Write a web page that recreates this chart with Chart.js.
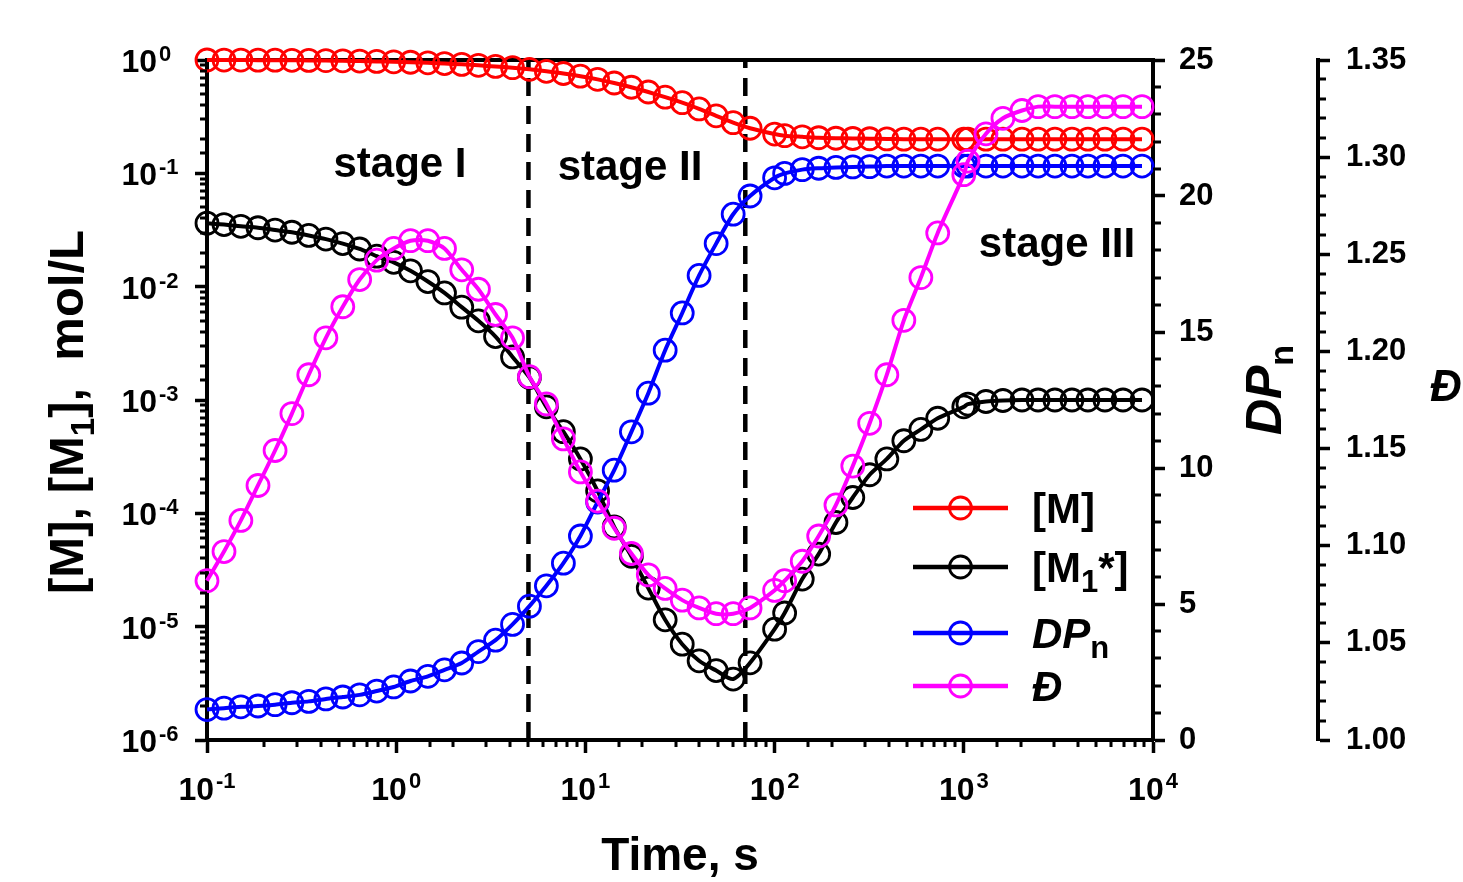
<!DOCTYPE html>
<html>
<head>
<meta charset="utf-8">
<script src="https://cdn.jsdelivr.net/npm/chart.js@4.4.1/dist/chart.umd.min.js"></script>
<style>
  html, body { margin: 0; padding: 0; background: #fff; }
  #wrap { width: 1463px; height: 882px; }
</style>
</head>
<body>
<div id="wrap"><canvas id="chart" width="1463" height="882"></canvas></div>
<script>
// ── Data ───────────────────────────────────────────────────────────────────

const TIMES = [
  0.1, 0.123, 0.151, 0.186, 0.229, 0.281, 0.345, 0.425, 0.522, 0.641,
  0.789, 0.97, 1.19, 1.47, 1.8, 2.22, 2.72, 3.35, 4.12, 5.06,
  6.22, 7.65, 9.41, 11.6, 14.2, 17.5, 21.5, 26.4, 32.5, 39.9,
  49.1, 60.4, 74.2, 100, 113, 140, 171, 211, 259, 318,
  392, 482, 593, 728, 1000, 1052, 1310, 1610, 2030, 2470,
  3030, 3730, 4530, 5570, 6940, 8750
];

// [M], mol/L
const M_CONC = [
  1.0, 0.999, 0.998, 0.997, 0.996, 0.994, 0.991, 0.988, 0.984, 0.979,
  0.972, 0.964, 0.955, 0.944, 0.93, 0.915, 0.897, 0.877, 0.855, 0.828,
  0.795, 0.76, 0.72, 0.675, 0.627, 0.575, 0.522, 0.47, 0.42, 0.37,
  0.322, 0.28, 0.25, 0.222, 0.215, 0.21, 0.206, 0.204, 0.203, 0.202,
  0.201, 0.2, 0.2, 0.2, 0.2, 0.2, 0.2, 0.2, 0.2, 0.2,
  0.2, 0.2, 0.2, 0.2, 0.2, 0.2
];

// [M1*], mol/L
const M1_CONC = [
  0.0363, 0.0353, 0.0341, 0.0331, 0.0316, 0.0302, 0.0283, 0.0263, 0.024, 0.0215,
  0.0186, 0.0164, 0.0138, 0.0111, 0.0088, 0.0066, 0.005, 0.00363, 0.0024, 0.00158,
  8.7e-4, 5.25e-4, 3.02e-4, 1.58e-4, 7.6e-5, 4.18e-5, 2.19e-5, 1.15e-5, 7.0e-6, 5.0e-6,
  4.1e-6, 3.45e-6, 4.8e-6, 9.5e-6, 1.32e-5, 2.63e-5, 4.37e-5, 8.3e-5, 1.38e-4, 2.19e-4,
  3.02e-4, 4.37e-4, 5.5e-4, 6.9e-4, 8.7e-4, 9.2e-4, 9.7e-4, 9.9e-4, 1.0e-3, 1.0e-3,
  1.0e-3, 1.0e-3, 1.0e-3, 1.0e-3, 1.0e-3, 1.0e-3
];

// DPn
const DPN = [
  1.12, 1.17, 1.22, 1.25, 1.3, 1.37, 1.42, 1.51, 1.58, 1.66,
  1.8, 1.95, 2.17, 2.34, 2.58, 2.83, 3.25, 3.67, 4.25, 4.92,
  5.67, 6.5, 7.5, 8.75, 9.92, 11.33, 12.75, 14.33, 15.7, 17.08,
  18.25, 19.33, 20.0, 20.67, 20.83, 20.97, 21.02, 21.05, 21.07, 21.08,
  21.1, 21.1, 21.1, 21.1, 21.1, 21.1, 21.1, 21.1, 21.1, 21.1,
  21.1, 21.1, 21.1, 21.1, 21.1, 21.1
];

// Đ (dispersity)
const DISP = [
  1.082, 1.097, 1.113, 1.131, 1.149, 1.168, 1.188, 1.207, 1.223, 1.237,
  1.247, 1.253, 1.257, 1.257, 1.253, 1.242, 1.232, 1.219, 1.207, 1.187,
  1.173, 1.155, 1.138, 1.123, 1.109, 1.096, 1.085, 1.078, 1.072, 1.068,
  1.065, 1.065, 1.068, 1.077, 1.082, 1.092, 1.105, 1.121, 1.141, 1.163,
  1.188, 1.216, 1.238, 1.261, 1.291, 1.298, 1.312, 1.320, 1.324, 1.326,
  1.326, 1.326, 1.326, 1.326, 1.326, 1.326
];

const STAGE_BOUNDS = [5, 70];
const STAGE_LABELS = ["stage I", "stage II", "stage III"];

// ── Styling ────────────────────────────────────────────────────────────────

const FONT = '"Liberation Sans", Arial, Helvetica, sans-serif';
const B = (size, italic) => `${italic ? "italic " : ""}bold ${size}px ${FONT}`;

// where the free text sits (pixels)
const STAGE_POS = [[400, 177], [630, 180], [1057, 257]];
const LEGEND = { x0: 913, x1: 1008, textX: 1032, rows: [508, 567, 633, 686] };

function isDecade(v) {
  const l = Math.log10(v);
  return Math.abs(l - Math.round(l)) < 1e-6;
}
const expOf = v => String(Math.round(Math.log10(v)));

// ── Datasets ───────────────────────────────────────────────────────────────

function series(label, rich, values, color, axis, order) {
  return {
    label, rich,
    data: TIMES.map((t, i) => ({ x: t, y: values[i] })),
    yAxisID: axis,
    borderColor: color,
    backgroundColor: "rgba(0,0,0,0)",
    borderWidth: 4,
    pointRadius: 11,
    pointHoverRadius: 11,
    pointBorderWidth: 2.8,
    pointBorderColor: color,
    pointBackgroundColor: "rgba(0,0,0,0)",
    tension: 0.25,
    clip: false,
    order,
  };
}

const datasets = [
  series("[M]", [["[M]", B(42)]], M_CONC, "#ff0000", "y", 3),
  series("[M1*]", [["[M", B(42)], ["1", B(31), 10], ["*]", B(42)]], M1_CONC, "#000000", "y", 2),
  series("DPn", [["DP", B(42, true)], ["n", B(31), 10]], DPN, "#0000ff", "yDP", 1),
  series("Đ", [["Đ", B(42, true)]], DISP, "#ff00ff", "yD", 0),
  ...STAGE_BOUNDS.map(t => ({
    label: "", rich: null,
    data: [{ x: t, y: 1e-6 }, { x: t, y: 1 }],
    yAxisID: "y",
    borderColor: "#000",
    borderWidth: 4.5,
    borderDash: [18, 10],
    pointRadius: 0,
    clip: false,
    order: 10,
  })),
];

// ── Plugins: minor ticks, power-of-ten labels, free text, legend ───────────

function drawRich(ctx, parts, x, y, align) {
  let w = 0;
  parts.forEach(p => { ctx.font = p[1]; w += ctx.measureText(p[0]).width; });
  let cx = align === "center" ? x - w / 2 : x;
  ctx.textAlign = "left";
  ctx.textBaseline = "alphabetic";
  parts.forEach(p => {
    ctx.font = p[1];
    ctx.fillText(p[0], cx, y + (p[2] || 0));
    cx += ctx.measureText(p[0]).width;
  });
}

const minorTicks = {
  id: "minorTicks",
  afterDraw(chart) {
    const ctx = chart.ctx;
    const { x, y, yDP, yD } = chart.scales;
    ctx.save();
    ctx.strokeStyle = "#000";
    ctx.lineWidth = 3;
    ctx.beginPath();
    x.ticks.forEach(t => {
      if (isDecade(t.value)) return;
      const px = Math.round(x.getPixelForValue(t.value));
      ctx.moveTo(px, x.top); ctx.lineTo(px, x.top + 7);
    });
    y.ticks.forEach(t => {
      if (isDecade(t.value)) return;
      const py = Math.round(y.getPixelForValue(t.value));
      ctx.moveTo(y.right, py); ctx.lineTo(y.right - 7, py);
    });
    yDP.ticks.forEach(t => {
      if (Math.round(t.value) % 5 === 0) return;
      const py = Math.round(yDP.getPixelForValue(t.value));
      ctx.moveTo(yDP.left, py); ctx.lineTo(yDP.left + 8, py);
    });
    yD.ticks.forEach(t => {
      if (Math.round(t.value * 100) % 5 === 0) return;
      const py = Math.round(yD.getPixelForValue(t.value));
      ctx.moveTo(yD.left, py); ctx.lineTo(yD.left + 8, py);
    });
    ctx.stroke();
    ctx.restore();
  },
};

// "10" with a raised exponent for the two log axes
const powerLabels = {
  id: "powerLabels",
  afterDraw(chart) {
    const ctx = chart.ctx;
    const { x, y } = chart.scales;
    const big = B(32), small = B(22);
    ctx.save();
    ctx.fillStyle = "#000";
    ctx.textBaseline = "alphabetic";
    x.ticks.forEach(t => {
      if (!isDecade(t.value)) return;
      const px = x.getPixelForValue(t.value);
      const e = expOf(t.value);
      ctx.font = big; const wb = ctx.measureText("10").width;
      ctx.font = small; const we = ctx.measureText(e).width;
      const left = px - (wb + 2 + we) / 2;
      ctx.textAlign = "left";
      ctx.font = big; ctx.fillText("10", left, x.top + 60);
      ctx.font = small; ctx.fillText(e, left + wb + 2, x.top + 48);
    });
    y.ticks.forEach(t => {
      if (!isDecade(t.value)) return;
      const py = y.getPixelForValue(t.value);
      const e = expOf(t.value);
      ctx.textAlign = "right";
      ctx.font = big; ctx.fillText("10", y.right - 50, py + 12);
      ctx.textAlign = "left";
      ctx.font = small; ctx.fillText(e, y.right - 48, py + 1);
    });
    ctx.restore();
  },
};

const textLayer = {
  id: "textLayer",
  afterDraw(chart) {
    const ctx = chart.ctx;
    ctx.save();
    ctx.fillStyle = "#000";

    // stage labels
    STAGE_LABELS.forEach((s, i) => drawRich(ctx, [[s, B(42)]], STAGE_POS[i][0], STAGE_POS[i][1], "center"));

    // left axis title
    ctx.save();
    ctx.translate(66, 412);
    ctx.rotate(-Math.PI / 2);
    drawRich(ctx, [["[M], [M", B(49)], ["1", B(33), 11], ["],  mol/L", B(49)]], 0, 17, "center");
    ctx.restore();

    // DPn axis title
    ctx.save();
    ctx.translate(1264, 390);
    ctx.rotate(-Math.PI / 2);
    drawRich(ctx, [["DP", B(50, true)], ["n", B(34), 12]], 0, 17, "center");
    ctx.restore();

    // Đ axis title
    drawRich(ctx, [["Đ", B(44, true)]], 1446, 401, "center");

    // legend
    let row = 0;
    chart.data.datasets.forEach(ds => {
      if (!ds.rich) return;
      const yy = LEGEND.rows[row++];
      ctx.strokeStyle = ds.borderColor;
      ctx.lineWidth = 4.5;
      ctx.beginPath();
      ctx.moveTo(LEGEND.x0, yy); ctx.lineTo(LEGEND.x1, yy);
      ctx.stroke();
      ctx.lineWidth = 2.8;
      ctx.beginPath();
      ctx.arc((LEGEND.x0 + LEGEND.x1) / 2, yy, 11, 0, Math.PI * 2);
      ctx.stroke();
      ctx.fillStyle = "#000";
      drawRich(ctx, ds.rich, LEGEND.textX, yy + 15, "left");
    });
    ctx.restore();
  },
};

// ── Chart ──────────────────────────────────────────────────────────────────

const tickFont = { family: FONT, size: 31, weight: "bold" };
const axisBorder = { display: true, color: "#000", width: 4 };

new Chart(document.getElementById("chart").getContext("2d"), {
  type: "line",
  data: { datasets },
  plugins: [minorTicks, powerLabels, textLayer],
  options: {
    responsive: false,
    devicePixelRatio: 1,
    animation: false,
    events: [],
    layout: { padding: { top: 60, left: 0, right: 0, bottom: 0 } },
    plugins: { legend: { display: false }, tooltip: { enabled: false } },
    scales: {
      x: {
        type: "logarithmic", position: "bottom", min: 0.1, max: 1e4,
        border: axisBorder,
        grid: {
          drawOnChartArea: false, tickLength: 13, tickWidth: 3.5,
          tickColor: c => (c.tick && isDecade(c.tick.value) ? "#000" : "rgba(0,0,0,0)"),
        },
        ticks: { autoSkip: false, maxRotation: 0, minRotation: 0, padding: 12, callback: () => "" },
        title: { display: true, text: "Time, s", color: "#000",
                 font: { family: FONT, size: 46, weight: "bold", lineHeight: 1 }, padding: { top: 0, bottom: 2 } },
        afterFit: s => { s.height = 142; },
      },
      xTop: {
        type: "logarithmic", position: "top", min: 0.1, max: 1e4,
        border: axisBorder,
        grid: { drawOnChartArea: false, drawTicks: false },
        ticks: { display: false },
        afterFit: s => { s.height = 0; },
      },
      y: {
        type: "logarithmic", position: "left", min: 1e-6, max: 1,
        border: axisBorder,
        grid: {
          drawOnChartArea: false, tickLength: 12, tickWidth: 3.5,
          tickColor: c => (c.tick && isDecade(c.tick.value) ? "#000" : "rgba(0,0,0,0)"),
        },
        ticks: { autoSkip: false, padding: 16, callback: () => "" },
        afterFit: s => { s.width = 207; },
      },
      yDP: {
        type: "linear", position: "right", min: 0, max: 25,
        border: axisBorder,
        grid: {
          drawOnChartArea: false, tickLength: 12, tickWidth: 3.5,
          tickColor: c => (c.tick && Math.round(c.tick.value) % 5 === 0 ? "#000" : "rgba(0,0,0,0)"),
        },
        ticks: {
          count: 26, autoSkip: false, padding: 14, color: "#000", font: tickFont,
          callback: v => (Math.round(v) % 5 === 0 ? String(Math.round(v)) : ""),
        },
        afterFit: s => { s.width = 165; },
      },
      yD: {
        type: "linear", position: "right", min: 1, max: 1.35,
        border: axisBorder,
        grid: {
          drawOnChartArea: false, tickLength: 12, tickWidth: 3.5,
          tickColor: c => (c.tick && Math.round(c.tick.value * 100) % 5 === 0 ? "#000" : "rgba(0,0,0,0)"),
        },
        ticks: {
          count: 36, autoSkip: false, padding: 16, color: "#000", font: tickFont,
          callback: v => (Math.round(v * 100) % 5 === 0 ? v.toFixed(2) : ""),
        },
        afterFit: s => { s.width = 145; },
      },
    },
  },
});
</script>
</body>
</html>
